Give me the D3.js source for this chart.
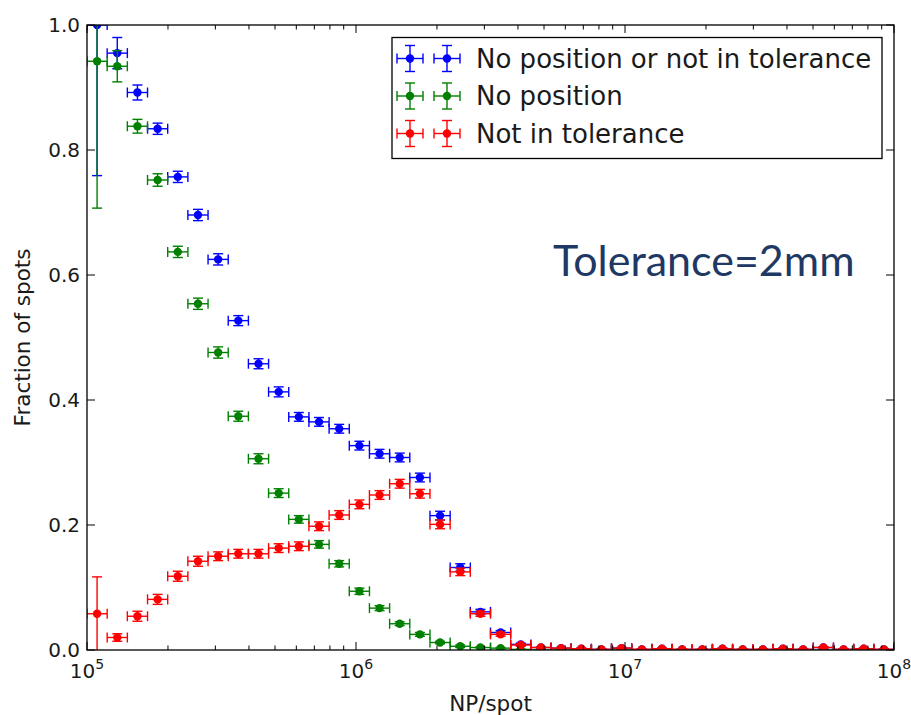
<!DOCTYPE html>
<html>
<head>
<meta charset="utf-8">
<script src="https://cdn.jsdelivr.net/npm/d3@7"></script>
<style>
  html, body { margin: 0; padding: 0; background: #fff; }
  svg { display: block; }
  text { font-family: "DejaVu Sans", sans-serif; fill: #1a1a1a; }
</style>
</head>
<body>
<svg id="chart" width="911" height="715"></svg>
<script>
// Log10 bin edges of NP/spot (40 bins from 1e5 to 1e8)
const binEdgesLog = [5.000, 5.075, 5.150, 5.225, 5.300, 5.375, 5.450, 5.525, 5.600, 5.675,
  5.750, 5.825, 5.900, 5.975, 6.050, 6.125, 6.200, 6.275, 6.350, 6.425,
  6.500, 6.575, 6.650, 6.725, 6.800, 6.875, 6.950, 7.025, 7.100, 7.175,
  7.250, 7.325, 7.400, 7.475, 7.550, 7.625, 7.700, 7.775, 7.850, 7.925, 8.000];

// Fraction of spots per bin
const anyFail = [1.000, 0.955, 0.892, 0.834, 0.757, 0.696, 0.625, 0.527, 0.458, 0.413,
  0.373, 0.365, 0.354, 0.327, 0.314, 0.308, 0.276, 0.215, 0.132, 0.061,
  0.028, 0.009, 0.004, 0.003, 0.002, 0.001, 0.003, 0.001, 0.002, 0.001,
  0.001, 0.002, 0.001, 0.001, 0.002, 0.001, 0.004, 0.001, 0.002, 0.001];
const anyFailErr = [0.241, 0.025, 0.012, 0.009, 0.009, 0.009, 0.009, 0.008, 0.008, 0.008,
  0.007, 0.007, 0.007, 0.007, 0.007, 0.007, 0.007, 0.007, 0.006, 0.004,
  0.003, 0.002, 0.001, 0.001, 0.001, 0.001, 0.001, 0.001, 0.001, 0.001,
  0.001, 0.001, 0.001, 0.001, 0.001, 0.001, 0.001, 0.001, 0.001, 0.001];

const noPosition = [0.942, 0.934, 0.838, 0.752, 0.637, 0.554, 0.476, 0.374, 0.306, 0.251,
  0.209, 0.169, 0.138, 0.094, 0.067, 0.042, 0.025, 0.012, 0.006, 0.004,
  0.003, 0.001, 0, 0, 0, 0, 0, 0, 0, 0,
  0, 0, 0, 0, 0, 0, 0, 0, 0, 0];
const noPositionErr = [0.235, 0.025, 0.011, 0.010, 0.009, 0.009, 0.009, 0.008, 0.008, 0.007,
  0.006, 0.006, 0.005, 0.005, 0.004, 0.003, 0.003, 0.002, 0.002, 0.001,
  0.001, 0, 0, 0, 0, 0, 0, 0, 0, 0,
  0, 0, 0, 0, 0, 0, 0, 0, 0, 0];

const notInTol = [0.058, 0.020, 0.054, 0.081, 0.118, 0.142, 0.150, 0.154, 0.154, 0.163,
  0.166, 0.198, 0.216, 0.233, 0.248, 0.266, 0.250, 0.201, 0.125, 0.058,
  0.025, 0.008, 0.004, 0.003, 0.002, 0.001, 0.003, 0.001, 0.002, 0.001,
  0.001, 0.002, 0.001, 0.001, 0.002, 0.001, 0.004, 0.001, 0.002, 0.001];
const notInTolErr = [0.059, 0.006, 0.008, 0.008, 0.008, 0.008, 0.007, 0.007, 0.007, 0.007,
  0.007, 0.007, 0.007, 0.007, 0.007, 0.007, 0.007, 0.007, 0.006, 0.004,
  0.003, 0.002, 0.001, 0.001, 0.001, 0.001, 0.001, 0.001, 0.001, 0.001,
  0.001, 0.001, 0.001, 0.001, 0.001, 0.001, 0.001, 0.001, 0.001, 0.001];

const seriesNames = ["No position or not in tolerance", "No position", "Not in tolerance"];
const seriesColors = ["#0000ff", "#008000", "#ff0000"];
const yTicks = [0.0, 0.2, 0.4, 0.6, 0.8, 1.0];
const xDecades = [5, 6, 7, 8];
const xLabel = "NP/spot";
const yLabel = "Fraction of spots";
const note = "Tolerance=2mm";

const W = 911, H = 715;
const margin = {left: 87, top: 25, right: 17, bottom: 65};
const iw = W - margin.left - margin.right;
const ih = H - margin.top - margin.bottom;

const svg = d3.select("#chart");
const x = d3.scaleLog().domain([1e5, 1e8]).range([0, iw]);
const y = d3.scaleLinear().domain([0, 1]).range([ih, 0]);

const g = svg.append("g").attr("transform", `translate(${margin.left},${margin.top})`);

svg.append("defs").append("clipPath").attr("id", "plotClip")
  .append("rect").attr("width", iw).attr("height", ih);

// Build bins from edges
const bins = d3.range(binEdgesLog.length - 1).map(i => ({
  lo: Math.pow(10, binEdgesLog[i]),
  hi: Math.pow(10, binEdgesLog[i + 1]),
  c: Math.pow(10, (binEdgesLog[i] + binEdgesLog[i + 1]) / 2)
}));

const series = [
  {vals: anyFail, errs: anyFailErr},
  {vals: noPosition, errs: noPositionErr},
  {vals: notInTol, errs: notInTolErr}
];

const cap = 5, r = 4.2, lw = 1.4;
const plot = g.append("g").attr("clip-path", "url(#plotClip)");

series.forEach((s, si) => {
  const col = seriesColors[si];
  const sg = plot.append("g").attr("stroke", col).attr("fill", col).attr("stroke-width", lw);
  const pts = bins.map((b, i) => ({b, v: s.vals[i], e: s.errs[i]}));
  const pg = sg.selectAll("g.pt").data(pts).join("g").attr("class", "pt");
  // horizontal bars spanning the bin
  pg.append("line")
    .attr("x1", d => x(d.b.lo)).attr("x2", d => x(d.b.hi))
    .attr("y1", d => y(d.v)).attr("y2", d => y(d.v));
  pg.append("line")
    .attr("x1", d => x(d.b.lo)).attr("x2", d => x(d.b.lo))
    .attr("y1", d => y(d.v) - cap).attr("y2", d => y(d.v) + cap);
  pg.append("line")
    .attr("x1", d => x(d.b.hi)).attr("x2", d => x(d.b.hi))
    .attr("y1", d => y(d.v) - cap).attr("y2", d => y(d.v) + cap);
  // vertical bars
  pg.append("line")
    .attr("x1", d => x(d.b.c)).attr("x2", d => x(d.b.c))
    .attr("y1", d => y(d.v - d.e)).attr("y2", d => y(d.v + d.e));
  pg.append("line")
    .attr("x1", d => x(d.b.c) - cap).attr("x2", d => x(d.b.c) + cap)
    .attr("y1", d => y(d.v - d.e)).attr("y2", d => y(d.v - d.e));
  pg.append("line")
    .attr("x1", d => x(d.b.c) - cap).attr("x2", d => x(d.b.c) + cap)
    .attr("y1", d => y(d.v + d.e)).attr("y2", d => y(d.v + d.e));
  pg.append("circle")
    .attr("cx", d => x(d.b.c)).attr("cy", d => y(d.v)).attr("r", r).attr("stroke", "none");
});

// Frame
g.append("rect").attr("width", iw).attr("height", ih)
  .attr("fill", "none").attr("stroke", "#000").attr("stroke-width", 1.3);

// Ticks (inward, on all four sides)
const tickG = g.append("g").attr("stroke", "#000").attr("stroke-width", 1);
const majorLen = 8, minorLen = 4.5;
const minorX = [];
xDecades.slice(0, -1).forEach(d => {
  for (let m = 2; m <= 9; m++) minorX.push(m * Math.pow(10, d));
});
xDecades.forEach(d => {
  const px = x(Math.pow(10, d));
  tickG.append("line").attr("x1", px).attr("x2", px).attr("y1", ih).attr("y2", ih - majorLen);
  tickG.append("line").attr("x1", px).attr("x2", px).attr("y1", 0).attr("y2", majorLen);
});
minorX.forEach(v => {
  const px = x(v);
  tickG.append("line").attr("x1", px).attr("x2", px).attr("y1", ih).attr("y2", ih - minorLen);
  tickG.append("line").attr("x1", px).attr("x2", px).attr("y1", 0).attr("y2", minorLen);
});
yTicks.forEach(v => {
  const py = y(v);
  tickG.append("line").attr("x1", 0).attr("x2", majorLen).attr("y1", py).attr("y2", py);
  tickG.append("line").attr("x1", iw).attr("x2", iw - majorLen).attr("y1", py).attr("y2", py);
});

// Y tick labels
g.append("g").selectAll("text").data(yTicks).join("text")
  .attr("x", -7).attr("y", d => y(d)).attr("dy", "0.36em")
  .attr("text-anchor", "end").attr("font-size", 20)
  .text(d => d.toFixed(1));

// X tick labels: 10 with superscript exponent
const xl = g.append("g");
xDecades.forEach(d => {
  const t = xl.append("text").attr("x", x(Math.pow(10, d))).attr("y", ih + 28)
    .attr("text-anchor", "middle").attr("font-size", 20);
  t.append("tspan").text("10");
  t.append("tspan").attr("font-size", 14).attr("dy", -9).text(String(d));
});

// Axis titles
svg.append("text").attr("x", margin.left + iw / 2).attr("y", 711)
  .attr("text-anchor", "middle").attr("font-size", 21.5).text(xLabel);
svg.append("text")
  .attr("transform", `translate(30,${margin.top + ih / 2}) rotate(-90)`)
  .attr("text-anchor", "middle").attr("font-size", 21.5).text(yLabel);

// Legend
const leg = svg.append("g");
leg.append("rect").attr("x", 392).attr("y", 37.5).attr("width", 490).attr("height", 121)
  .attr("fill", "#fff").attr("stroke", "#000").attr("stroke-width", 1.3);
const rowY = [58.5, 96, 133.5];
const handleX = [410, 447];
const hs = 13;
seriesNames.forEach((name, i) => {
  const col = seriesColors[i];
  const hg = leg.append("g").attr("stroke", col).attr("fill", col).attr("stroke-width", lw);
  handleX.forEach(hx => {
    const cy = rowY[i];
    hg.append("line").attr("x1", hx - hs).attr("x2", hx + hs).attr("y1", cy).attr("y2", cy);
    hg.append("line").attr("x1", hx - hs).attr("x2", hx - hs).attr("y1", cy - cap).attr("y2", cy + cap);
    hg.append("line").attr("x1", hx + hs).attr("x2", hx + hs).attr("y1", cy - cap).attr("y2", cy + cap);
    hg.append("line").attr("x1", hx).attr("x2", hx).attr("y1", cy - hs).attr("y2", cy + hs);
    hg.append("line").attr("x1", hx - cap).attr("x2", hx + cap).attr("y1", cy - hs).attr("y2", cy - hs);
    hg.append("line").attr("x1", hx - cap).attr("x2", hx + cap).attr("y1", cy + hs).attr("y2", cy + hs);
    hg.append("circle").attr("cx", hx).attr("cy", cy).attr("r", r).attr("stroke", "none");
  });
  leg.append("text").attr("x", 476).attr("y", rowY[i]).attr("dy", "0.36em")
    .attr("font-size", 26).text(name);
});

// Annotation
svg.append("text").attr("x", 553).attr("y", 276)
  .style("font-family", "Lato, 'Open Sans', sans-serif").style("fill", "#203864")
  .attr("font-size", 43).text(note);
</script>
</body>
</html>
